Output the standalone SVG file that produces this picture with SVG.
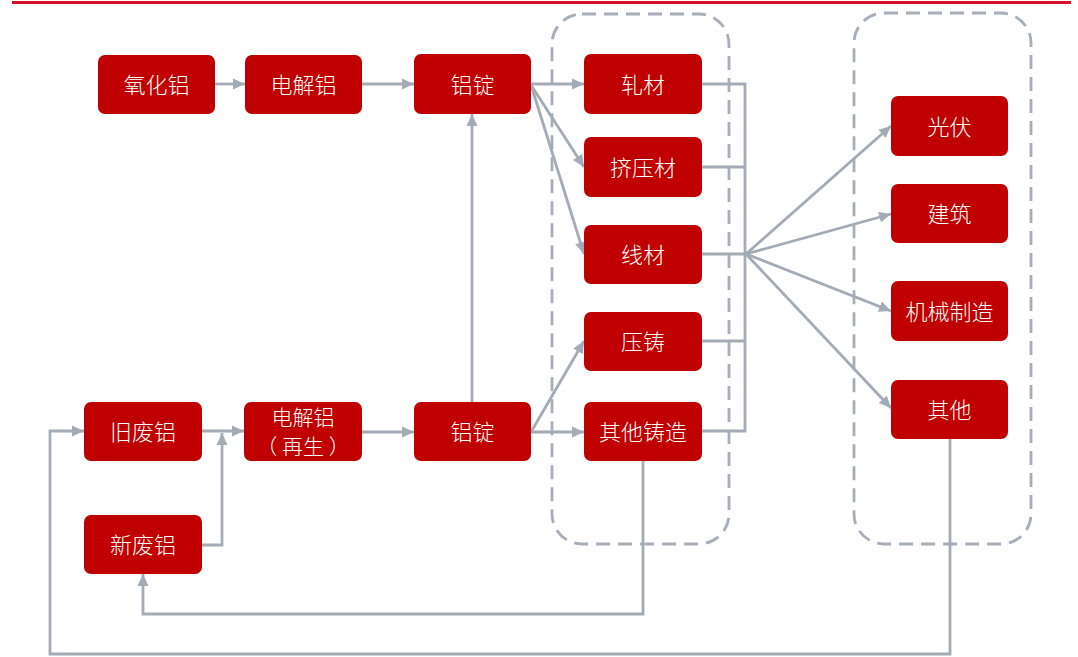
<svg xmlns="http://www.w3.org/2000/svg" width="1078" height="657" viewBox="0 0 1078 657">
<style>
.n rect{fill:#c00000}
.n text{fill:#ffffff;font-family:"Noto Sans CJK SC","Noto Sans",sans-serif;font-size:22px;font-weight:300;text-anchor:middle;dominant-baseline:central}
.n text.s{font-size:21px}
.c path,.c line{fill:none;stroke:#a3abb6;stroke-width:2.8}
.a{marker-end:url(#ah)}
.g rect{fill:none;stroke:#a6aeb9;stroke-width:2.8;stroke-dasharray:14 8}
</style>
<defs>
<marker id="ah" markerUnits="userSpaceOnUse" markerWidth="13" markerHeight="13" refX="12" refY="6.5" orient="auto" viewBox="0 0 13 13">
<path d="M0,1 L12,6.5 L0,12 z" fill="#a3abb6"/>
</marker>
</defs>
<rect x="12" y="1" width="1059" height="3" fill="#d9102a"/>
<g id="groups" class="g">
<rect x="552" y="14" width="177" height="530" rx="30"/>
<rect x="854" y="13" width="177" height="531" rx="30"/>
</g>
<g id="connectors" class="c">
<line class="a" x1="215" y1="84" x2="245" y2="84"/>
<line class="a" x1="362" y1="84" x2="414" y2="84"/>
<line class="a" x1="531" y1="84" x2="584" y2="84"/>
<line class="a" x1="531" y1="85" x2="584" y2="167"/>
<line class="a" x1="531" y1="85" x2="584" y2="254"/>
<line class="a" x1="472" y1="402" x2="472" y2="114"/>
<path d="M702,84 H745 V431 H702"/>
<line x1="702" y1="167" x2="745" y2="167"/>
<line x1="702" y1="254" x2="745" y2="254"/>
<line x1="702" y1="341" x2="745" y2="341"/>
<line class="a" x1="746" y1="254" x2="891" y2="126"/>
<line class="a" x1="746" y1="254" x2="891" y2="214"/>
<line class="a" x1="746" y1="254" x2="891" y2="311"/>
<line class="a" x1="746" y1="254" x2="891" y2="408"/>
<line class="a" x1="531" y1="432" x2="584" y2="341"/>
<line class="a" x1="531" y1="432" x2="584" y2="432"/>
<line class="a" x1="362" y1="432" x2="414" y2="432"/>
<line class="a" x1="202" y1="431" x2="244" y2="431"/>
<path class="a" d="M202,545 H222 V433"/>
<path class="a" d="M643,461 V614 H143 V574"/>
<path class="a" d="M950,439 V654 H50 V431 H84"/>
</g>
<g id="n-yanghualv" class="n"><rect x="98" y="55" width="117" height="59" rx="7"/><text x="156.5" y="83">氧化铝</text></g>
<g id="n-dianjielv" class="n"><rect x="245" y="55" width="117" height="59" rx="7"/><text x="303.5" y="83">电解铝</text></g>
<g id="n-lvding1" class="n"><rect x="414" y="54" width="117" height="60" rx="7"/><text x="472.5" y="83">铝锭</text></g>
<g id="n-zhacai" class="n"><rect x="584" y="54" width="118" height="60" rx="7"/><text x="643" y="83">轧材</text></g>
<g id="n-jiyacai" class="n"><rect x="584" y="137" width="118" height="60" rx="7"/><text x="643" y="166">挤压材</text></g>
<g id="n-xiancai" class="n"><rect x="584" y="225" width="118" height="59" rx="7"/><text x="643" y="253">线材</text></g>
<g id="n-yazhu" class="n"><rect x="584" y="312" width="118" height="59" rx="7"/><text x="643" y="340">压铸</text></g>
<g id="n-qitazhuzao" class="n"><rect x="584" y="402" width="118" height="59" rx="7"/><text x="643" y="430">其他铸造</text></g>
<g id="n-guangfu" class="n"><rect x="891" y="96" width="117" height="60" rx="7"/><text x="949.5" y="125">光伏</text></g>
<g id="n-jianzhu" class="n"><rect x="891" y="184" width="117" height="59" rx="7"/><text x="949.5" y="212">建筑</text></g>
<g id="n-jixie" class="n"><rect x="891" y="281" width="117" height="60" rx="7"/><text x="949.5" y="310">机械制造</text></g>
<g id="n-qita" class="n"><rect x="891" y="380" width="117" height="59" rx="7"/><text x="949.5" y="408">其他</text></g>
<g id="n-jiufeilv" class="n"><rect x="84" y="402" width="118" height="59" rx="7"/><text x="143" y="430">旧废铝</text></g>
<g id="n-dianjielv2" class="n"><rect x="244" y="402" width="118" height="59" rx="7"/><text class="s" x="303" y="416">电解铝</text><text class="s" x="303" y="445">（ 再生 ）</text></g>
<g id="n-lvding2" class="n"><rect x="414" y="402" width="117" height="59" rx="7"/><text x="472.5" y="430">铝锭</text></g>
<g id="n-xinfeilv" class="n"><rect x="84" y="515" width="118" height="59" rx="7"/><text x="143" y="543">新废铝</text></g>
</svg>
